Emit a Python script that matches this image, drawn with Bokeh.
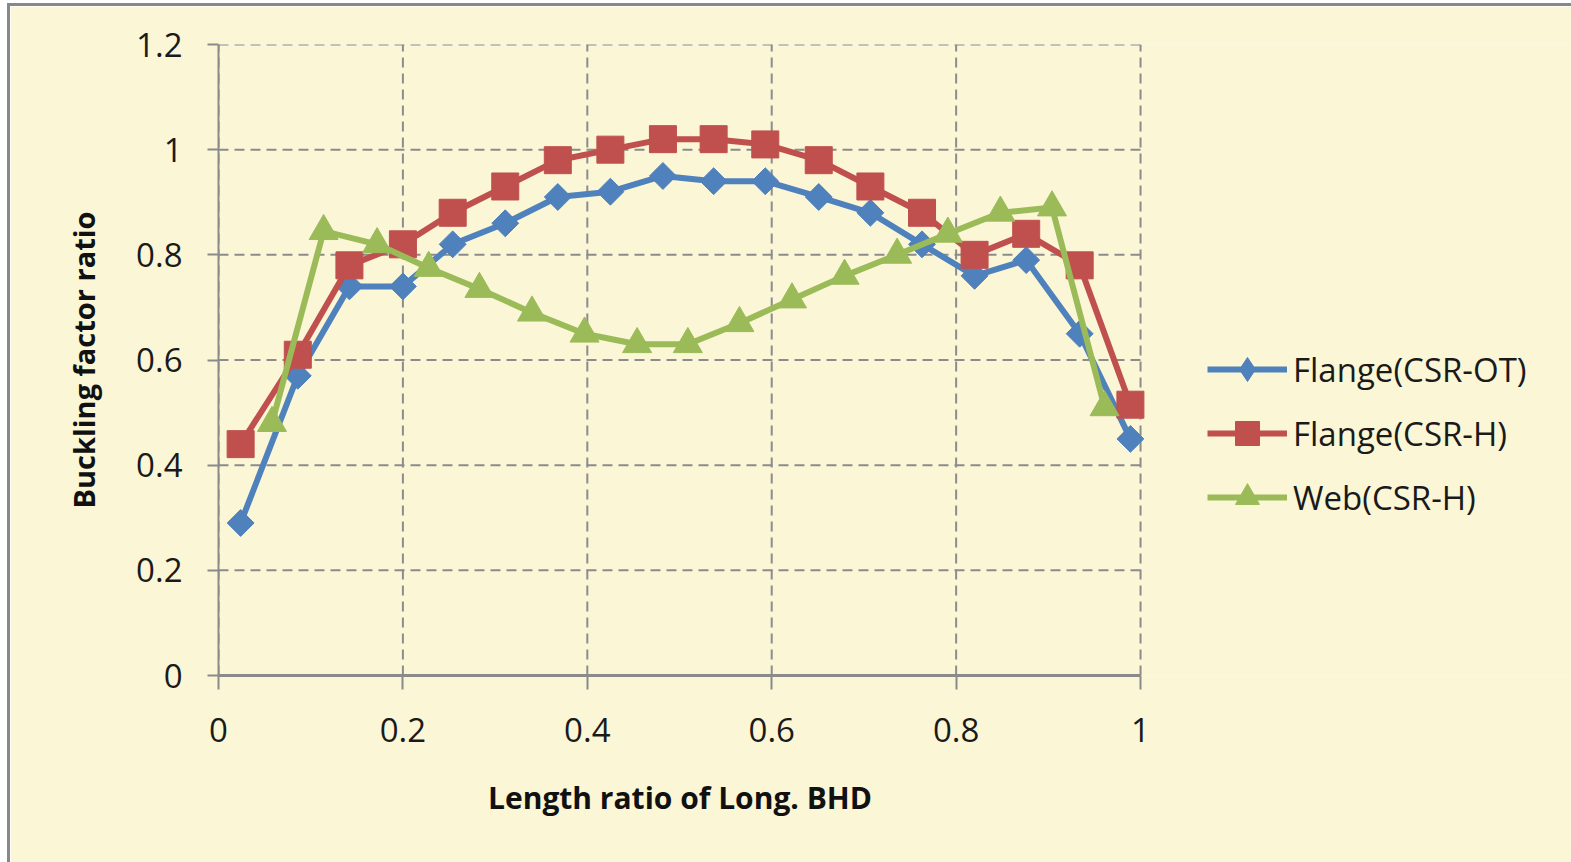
from bokeh.plotting import figure
from bokeh.models import Range1d, FixedTicker, Legend, LegendItem, Title
from bokeh.embed import file_html
from bokeh.resources import INLINE
import math

# --- data -------------------------------------------------------------
flange_x = [0.024, 0.086, 0.142, 0.200, 0.254, 0.311, 0.368, 0.425, 0.482,
            0.537, 0.593, 0.651, 0.707, 0.763, 0.820, 0.876, 0.934, 0.989]
flange_csr_ot = [0.29, 0.57, 0.74, 0.74, 0.82, 0.86, 0.91, 0.92, 0.95,
                 0.94, 0.94, 0.91, 0.88, 0.82, 0.76, 0.79, 0.65, 0.45]
flange_csr_h = [0.44, 0.61, 0.78, 0.82, 0.88, 0.93, 0.98, 1.00, 1.02,
                1.02, 1.01, 0.98, 0.93, 0.88, 0.80, 0.84, 0.78, 0.515]

web_x = [0.058, 0.114, 0.172, 0.228, 0.283, 0.340, 0.397, 0.454, 0.509,
         0.565, 0.622, 0.679, 0.736, 0.791, 0.848, 0.904, 0.961]
web_csr_h = [0.48, 0.845, 0.82, 0.775, 0.735, 0.69, 0.65, 0.63, 0.63,
             0.67, 0.715, 0.76, 0.80, 0.84, 0.88, 0.89, 0.51]

series_names = ["Flange(CSR-OT)", "Flange(CSR-H)", "Web(CSR-H)"]

x_ticks = [0, 0.2, 0.4, 0.6, 0.8, 1.0]
x_tick_labels = ["0", "0.2", "0.4", "0.6", "0.8", "1"]
y_ticks = [0, 0.2, 0.4, 0.6, 0.8, 1.0, 1.2]
y_tick_labels = ["0", "0.2", "0.4", "0.6", "0.8", "1", "1.2"]

x_title = "Length ratio of Long. BHD"
y_title = "Buckling factor ratio"

# --- style ------------------------------------------------------------
BG = "#FAF6D6"
GRID = "#8C8C8C"
AXIS = "#8A8A8A"
BLUE = "#4F81BD"
RED = "#C0504D"
GREEN = "#9BBB59"
FONT = "Open Sans"

PAGE_W, PAGE_H = 1571, 862
# chart box: grey edge on the left and top, inset from the page corner
EDGE_X, EDGE_Y, EDGE = 7, 3, 3
W, H = PAGE_W - EDGE_X, PAGE_H - EDGE_Y
CANVAS_X, CANVAS_Y = EDGE_X + EDGE, EDGE_Y + EDGE

# plot area in page pixels; the frame runs on to the right edge so the
# legend can sit beside the axes
AREA_L, AREA_R, AREA_T, AREA_B = 218, 1138, 44, 672
x_end = x_ticks[-1] * (PAGE_W - AREA_L) / (AREA_R - AREA_L)

p = figure(width=W, height=H, output_backend="svg", toolbar_location=None,
           x_range=Range1d(x_ticks[0], x_end),
           y_range=Range1d(y_ticks[0], y_ticks[-1]),
           min_border_left=AREA_L - CANVAS_X, min_border_right=0,
           min_border_top=AREA_T - CANVAS_Y, min_border_bottom=PAGE_H - AREA_B)
p.margin = (EDGE_Y, 0, 0, EDGE_X)
p.styles = {"border-left": f"{EDGE}px solid #888888",
            "border-top": f"{EDGE}px solid #888888"}
p.background_fill_color = BG
p.border_fill_color = BG
p.outline_line_color = None
p.xgrid.visible = False
p.ygrid.visible = False

# dashed grid, limited to the axis extent
p.segment(x0=x_ticks, y0=[y_ticks[0]] * len(x_ticks),
          x1=x_ticks, y1=[y_ticks[-1]] * len(x_ticks),
          line_color=GRID, line_width=2, line_dash="10 6")
p.segment(x0=[x_ticks[0]] * len(y_ticks), y0=y_ticks,
          x1=[x_ticks[-1]] * len(y_ticks), y1=y_ticks,
          line_color=GRID, line_width=2, line_dash="10 6")

# axes
p.xaxis.ticker = FixedTicker(ticks=x_ticks)
p.yaxis.ticker = FixedTicker(ticks=y_ticks)
p.xaxis.bounds = (x_ticks[0], x_ticks[-1])
p.xaxis.major_label_overrides = {t: l for t, l in zip(x_ticks, x_tick_labels)}
p.yaxis.major_label_overrides = {t: l for t, l in zip(y_ticks, y_tick_labels)}
for ax in (p.xaxis, p.yaxis):
    ax.axis_line_color = AXIS
    ax.major_tick_line_color = AXIS
    ax.major_tick_line_width = 2
    ax.minor_tick_line_color = None
    ax.major_tick_in = 0
    ax.major_label_text_font = FONT
    ax.major_label_text_font_size = "33px"
    ax.major_label_text_color = "#1a1a1a"
p.yaxis.axis_line_width = 2
p.xaxis.axis_line_width = 3
p.yaxis.major_tick_out = 11
p.xaxis.major_tick_out = 14
p.yaxis.major_label_standoff = 25
p.xaxis.major_label_standoff = 28

p.yaxis.axis_label = y_title
p.yaxis.axis_label_text_font = FONT
p.yaxis.axis_label_text_font_size = "29px"
p.yaxis.axis_label_text_font_style = "bold"
p.yaxis.axis_label_text_color = "#111111"
p.yaxis.axis_label_standoff = 30

# x title centred under the axis span (the frame itself is wider)
X_TITLE_SIZE = 30
x_title_width = 381
p.add_layout(Title(text=x_title, align="left",
                   offset=(AREA_R - AREA_L) / 2 - x_title_width / 2,
                   standoff=60, text_font=FONT,
                   text_font_size=f"{X_TITLE_SIZE}px", text_font_style="bold",
                   text_color="#111111"), "below")

# series
lw = 6
l1 = p.line(flange_x, flange_csr_ot, line_color=BLUE, line_width=lw)
m1 = p.scatter(flange_x, flange_csr_ot, marker="square", angle=math.pi / 4,
               size=19, fill_color=BLUE, line_color=BLUE)
# diamond key for the legend (zero size on the plot itself)
k1 = p.scatter(flange_x, flange_csr_ot, marker="diamond", size=0,
               fill_color=BLUE, line_color=BLUE)
l2 = p.line(flange_x, flange_csr_h, line_color=RED, line_width=lw)
m2 = p.scatter(flange_x, flange_csr_h, marker="square", size=27,
               fill_color=RED, line_color=RED)
l3 = p.line(web_x, web_csr_h, line_color=GREEN, line_width=lw)
m3 = p.scatter(web_x, web_csr_h, marker="triangle", size=29,
               fill_color=GREEN, line_color=GREEN)

legend = Legend(items=[LegendItem(label=series_names[0], renderers=[l1, k1]),
                       LegendItem(label=series_names[1], renderers=[l2, m2]),
                       LegendItem(label=series_names[2], renderers=[l3, m3])],
                location=(1207 - AREA_L, 148), margin=0, padding=0,
                glyph_width=80, glyph_height=60, spacing=4,
                label_standoff=6, label_height=60,
                label_text_font=FONT, label_text_font_size="33px",
                label_text_color="#1a1a1a",
                background_fill_alpha=0, border_line_color=None)
p.add_layout(legend)

open("out.html", "w").write(file_html(p, INLINE))
